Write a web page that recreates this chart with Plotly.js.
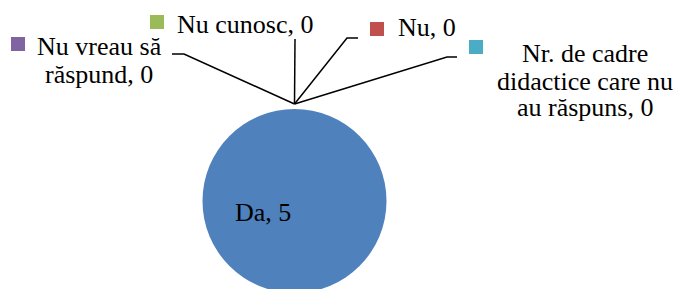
<!DOCTYPE html>
<html>
<head>
<meta charset="utf-8">
<script src="https://cdn.plot.ly/plotly-3.0.1.min.js"></script>
<style>
html, body { margin: 0; padding: 0; overflow: hidden; background: #fff; }
#chart { width: 678px; height: 293px; }
</style>
</head>
<body>
<div id="chart"></div>
<script>
// ---- data ----
const labels = ["Da", "Nu", "Nu cunosc", "Nu vreau să răspund", "Nr. de cadre didactice care nu au răspuns"];
const values = [5, 0, 0, 0, 0];
const colors = ["#4F81BD", "#C0504D", "#9BBB59", "#8064A2", "#4BACC6"];
// label lines as displayed (wrapped)
const labelLines = [
  ["Da, " + values[0]],
  ["Nu, " + values[1]],
  ["Nu cunosc, " + values[2]],
  ["Nu vreau să", "răspund, " + values[3]],
  ["Nr. de cadre", "didactice care nu", "au răspuns, " + values[4]]
];

// ---- layout helpers (pixel -> paper) ----
const W = 678, H = 293;
const X = p => p / W;
const Y = p => 1 - p / H;
const FS = 26;
const mkFont = () => ({ family: "Liberation Serif", size: FS, color: "#000000" });

// pie geometry: center (294.5, 201), radius 92
const cx = 294.5, cy = 201, r = 92;

// label placement (pixels): anchor, x, y-centers of lines
const place = [
  { xa: "center", x: 263, ys: [212] },
  { xa: "left", x: 396, ys: [28] },
  { xa: "left", x: 175, ys: [24] },
  { xa: "center", x: 99.5, ys: [46, 74] },
  { xa: "center", x: 585, ys: [53, 81, 108] }
];
const squares = [null, [370, 22], [150, 15], [11, 37], [469, 40]];
const apex = [cx, cy - r - 5];
const leaders = [
  null,
  [[347, 38], [358, 38]],
  [[295, 39]],
  [[184, 54], [172, 54]],
  [[447, 57], [457, 57]]
];

const annotations = [];
const shapes = [];
labels.forEach((lab, i) => {
  labelLines[i].forEach((t, k) => {
    annotations.push({
      text: t, showarrow: false, xref: "paper", yref: "paper",
      x: X(place[i].x), y: Y(place[i].ys[k]),
      xanchor: place[i].xa, yanchor: "middle", font: mkFont()
    });
  });
  if (squares[i]) {
    const [sx, sy] = squares[i];
    shapes.push({ type: "rect", xref: "paper", yref: "paper",
      x0: X(sx), x1: X(sx + 14), y0: Y(sy), y1: Y(sy + 14),
      fillcolor: colors[i], line: { width: 0 } });
  }
  if (leaders[i]) {
    let d = "M" + X(apex[0]) + "," + Y(apex[1]);
    leaders[i].forEach(p => { d += " L" + X(p[0]) + "," + Y(p[1]); });
    shapes.push({ type: "path", xref: "paper", yref: "paper", path: d,
      line: { color: "#000", width: 1.5 } });
  }
});

const trace = {
  type: "pie",
  labels: labels,
  values: values,
  sort: false,
  direction: "clockwise",
  rotation: 0,
  marker: { colors: colors, line: { width: 0 } },
  textinfo: "none",
  hoverinfo: "label+value",
  showlegend: false,
  domain: { x: [X(cx - r), X(cx + r)], y: [Y(cy + r), Y(cy - r)] }
};

const layout = {
  width: W, height: H,
  margin: { l: 0, r: 0, t: 0, b: 0 },
  paper_bgcolor: "#fff",
  showlegend: false,
  annotations: annotations,
  shapes: shapes
};

Plotly.newPlot("chart", [trace], layout, { displayModeBar: false, staticPlot: true });
</script>
</body>
</html>
